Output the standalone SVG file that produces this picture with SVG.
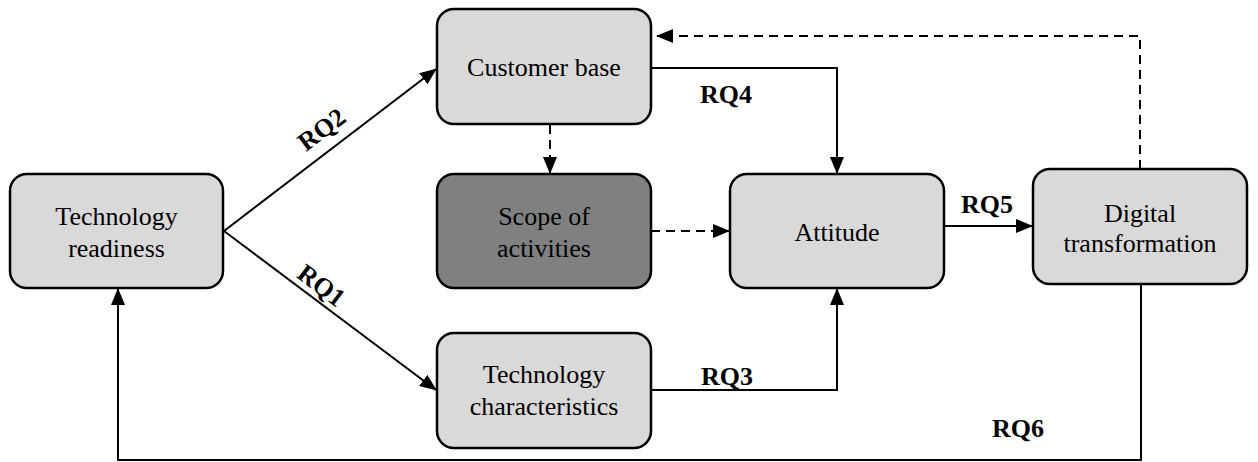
<svg xmlns="http://www.w3.org/2000/svg" width="1258" height="462" viewBox="0 0 1258 462">
<style>
.box{fill:#d9d9d9;stroke:#000;stroke-width:2.5}
.dark{fill:#808080}
.t{font-family:'Liberation Serif','Times New Roman',Times,'DejaVu Serif',serif;font-size:26px;fill:#000;text-anchor:middle}
.rq{font-family:'Liberation Serif','Times New Roman',Times,'DejaVu Serif',serif;font-size:26px;font-weight:bold;fill:#000}
.c{fill:none;stroke:#000;stroke-width:2}
.d{stroke-dasharray:9 6}
</style>
<defs>
<marker id="ah" markerUnits="userSpaceOnUse" markerWidth="17" markerHeight="14" refX="16" refY="7" orient="auto">
<path d="M0,0 L17,7 L0,14 Z" fill="#000"/>
</marker>
</defs>
<rect width="1258" height="462" fill="#fff"/>
<g id="connectors">
<line class="c" x1="224" y1="231" x2="436" y2="69" marker-end="url(#ah)"/>
<line class="c" x1="224" y1="231" x2="436" y2="390" marker-end="url(#ah)"/>
<polyline class="c" points="651,68 837,68 837,173" marker-end="url(#ah)"/>
<line class="c d" x1="550" y1="125" x2="550" y2="173" marker-end="url(#ah)"/>
<line class="c d" x1="651" y1="231" x2="729" y2="231" marker-end="url(#ah)"/>
<polyline class="c" points="651,390 837,390 837,289" marker-end="url(#ah)"/>
<line class="c" x1="944" y1="226" x2="1032" y2="226" marker-end="url(#ah)"/>
<polyline class="c d" points="1140,169 1140,36 657,36" marker-end="url(#ah)"/>
<polyline class="c" points="1141,285 1141,460 118,460 118,289" marker-end="url(#ah)"/>
<text class="rq" text-anchor="middle" transform="translate(322,130) rotate(-37)" x="0" y="8">RQ2</text>
<text class="rq" text-anchor="middle" transform="translate(321,286) rotate(37)" x="0" y="8">RQ1</text>
<text class="rq" x="700" y="103">RQ4</text>
<text class="rq" x="701" y="385">RQ3</text>
<text class="rq" x="961" y="213">RQ5</text>
<text class="rq" x="992" y="437">RQ6</text>
</g>
<g id="technology-readiness">
<rect class="box" x="10" y="174" width="213" height="114" rx="17"/>
<text class="t" x="116.5" y="225">Technology</text>
<text class="t" x="116.5" y="257">readiness</text>
</g>
<g id="customer-base">
<rect class="box" x="437" y="9" width="214" height="115" rx="17"/>
<text class="t" x="544" y="76">Customer base</text>
</g>
<g id="scope-of-activities">
<rect class="box dark" x="437" y="174" width="214" height="114" rx="17"/>
<text class="t" x="544" y="225">Scope of</text>
<text class="t" x="544" y="257">activities</text>
</g>
<g id="attitude">
<rect class="box" x="730" y="174" width="214" height="114" rx="17"/>
<text class="t" x="837" y="241">Attitude</text>
</g>
<g id="digital-transformation">
<rect class="box" x="1033" y="169" width="214" height="115" rx="17"/>
<text class="t" x="1140" y="222">Digital</text>
<text class="t" x="1140" y="252">transformation</text>
</g>
<g id="technology-characteristics">
<rect class="box" x="437" y="333" width="214" height="115" rx="17"/>
<text class="t" x="544" y="383">Technology</text>
<text class="t" x="544" y="415">characteristics</text>
</g>
</svg>
